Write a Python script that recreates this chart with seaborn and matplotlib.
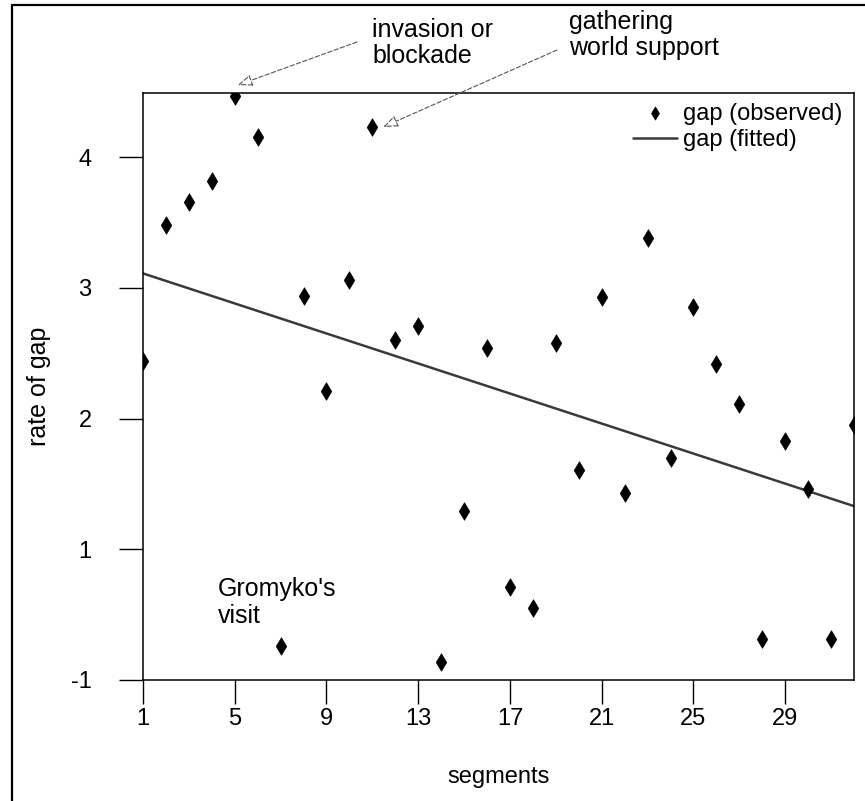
import numpy as np
import pandas as pd
import matplotlib
matplotlib.use("Agg")
import matplotlib.pyplot as plt
import seaborn as sns
from matplotlib.lines import Line2D

# values (y is in the axis' own drawn scale,
# where the bottom tick carries the label "-1")
segments = list(range(1, 33))
gap_observed = [
    2.44, 3.48, 3.66, 3.82, 4.47, 4.15, 0.26, 2.94, 2.21, 3.06, 4.23,
    2.60, 2.71, 0.14, 1.29, 2.54, 0.71, 0.55, 2.58, 1.61, 2.93, 1.43,
    3.38, 1.70, 2.85, 2.42, 2.11, 0.31, 1.83, 1.46, 0.31, 1.95,
]
fit_segments = [1, 32]
gap_fitted = [3.11, 1.33]

x_ticks = [1, 5, 9, 13, 17, 21, 25, 29]
y_ticks = [0, 1, 2, 3, 4]
y_tick_labels = ["-1", "1", "2", "3", "4"]

obs = pd.DataFrame({"segments": segments, "gap": gap_observed})
fit = pd.DataFrame({"segments": fit_segments, "gap": gap_fitted})

sns.set_style("ticks")
plt.rcParams["font.family"] = ["Liberation Sans", "DejaVu Sans"]
plt.rcParams.update({"text.color": "black", "axes.labelcolor": "black",
                     "xtick.color": "black", "ytick.color": "black"})

fig = plt.figure(figsize=(8.65, 8.01), dpi=100)
ax = fig.add_axes([143 / 865, 1 - 680 / 801, 711 / 865, 587 / 801])

sns.scatterplot(data=obs, x="segments", y="gap", marker="d", s=80,
                color="black", edgecolor="black", linewidth=0.5,
                label="gap (observed)", ax=ax, zorder=3)
sns.lineplot(data=fit, x="segments", y="gap", color="#3a3a3a", lw=1.8,
             label="gap (fitted)", ax=ax)

ax.set_xlim(1, 32)
ax.set_ylim(0, 4.49)
ax.set_xticks(x_ticks)
ax.set_yticks(y_ticks)
ax.set_yticklabels(y_tick_labels)
ax.tick_params(axis="both", direction="out", length=17, width=1,
               labelsize=17)
ax.tick_params(axis="y", pad=20)
ax.tick_params(axis="x", pad=3)
for sp in ax.spines.values():
    sp.set_visible(True)
    sp.set_linewidth(1.1)
    sp.set_color("black")

ax.set_xlabel("segments", fontsize=17, labelpad=26)
ax.set_ylabel("rate of gap", fontsize=18, labelpad=14)

ax.legend(loc="upper right", bbox_to_anchor=(1.014, 1.02), frameon=False,
          fontsize=17, handlelength=1.9, handletextpad=0.25,
          labelspacing=0.2, markerscale=0.75)

# annotations
ax.text(4.25, 0.79, "Gromyko's\nvisit", fontsize=18, ha="left", va="top",
        linespacing=1.15)
fig.text(372 / 865, 1 - 18 / 801, "invasion or\nblockade", fontsize=18,
         ha="left", va="top", linespacing=1.1)
fig.text(569 / 865, 1 - 10 / 801, "gathering\nworld support", fontsize=18,
         ha="left", va="top", linespacing=1.1)

arrow = dict(arrowstyle="-|>,head_length=0.9,head_width=0.35",
             linestyle=(0, (4, 2)), lw=0.8, color="#555555", fc="white",
             shrinkA=0, shrinkB=0)
ax.annotate("", xy=(5.13, 4.55), xycoords="data",
            xytext=(357 / 865, 1 - 42 / 801), textcoords="figure fraction",
            arrowprops=arrow, annotation_clip=False)
ax.annotate("", xy=(11.47, 4.23), xycoords="data",
            xytext=(557 / 865, 1 - 50 / 801), textcoords="figure fraction",
            arrowprops=arrow, annotation_clip=False)

# outer frame of the figure
fig.add_artist(Line2D([12 / 865, 1], [1 - 5 / 801, 1 - 5 / 801],
                      color="black", lw=1.6, transform=fig.transFigure))
fig.add_artist(Line2D([12 / 865, 12 / 865], [0, 1 - 5 / 801],
                      color="black", lw=1.6, transform=fig.transFigure))

fig.savefig("out.png", dpi=100)
